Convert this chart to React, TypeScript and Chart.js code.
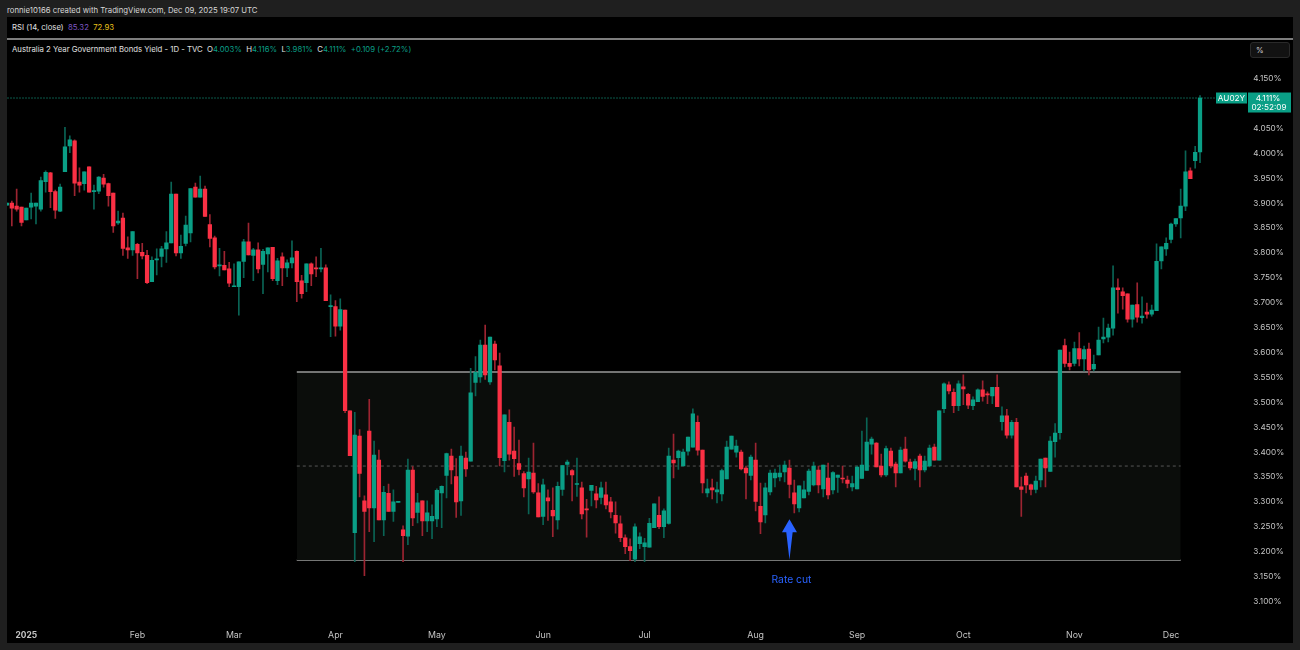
import React, { useEffect, useRef } from 'react';
import { Chart, registerables } from 'chart.js';

Chart.register(...registerables);

const opens = [
  3.896,3.900,3.894,3.892,3.866,3.892,3.894,3.888,3.943,3.961,
  3.923,3.884,3.963,4.015,4.025,3.942,3.939,3.973,3.923,3.924,
  3.950,3.939,3.920,3.860,3.870,3.810,3.806,3.817,3.801,3.795,
  3.742,3.786,3.793,3.808,3.820,3.918,3.800,3.819,3.840,3.932,
  3.912,3.928,3.857,3.830,3.774,3.775,3.768,3.732,3.732,3.783,
  3.822,3.795,3.806,3.777,3.798,3.811,3.744,3.792,3.770,3.780,
  3.803,3.744,3.740,3.778,3.770,3.768,3.770,3.692,3.692,3.653,
  3.685,3.483,3.238,3.432,3.302,3.442,3.288,3.384,3.264,3.317,
  3.281,3.299,3.244,3.231,3.364,3.279,3.302,3.262,3.262,3.266,
  3.318,3.353,3.392,3.351,3.302,3.388,3.382,3.540,3.551,3.615,
  3.541,3.617,3.573,3.383,3.460,3.402,3.377,3.357,3.346,3.358,
  3.318,3.271,3.308,3.283,3.264,3.325,3.375,3.363,3.335,3.328,
  3.286,3.323,3.316,3.309,3.314,3.300,3.273,3.256,3.228,3.210,
  3.185,3.216,3.210,3.209,3.248,3.273,3.250,3.257,3.384,3.389,
  3.372,3.402,3.410,3.460,3.404,3.318,3.328,3.320,3.316,3.346,
  3.406,3.400,3.400,3.368,3.353,3.384,3.291,3.274,3.320,3.348,
  3.350,3.360,3.368,3.318,3.288,3.308,3.321,3.334,3.364,3.326,
  3.348,3.324,3.349,3.348,3.344,3.330,3.326,3.347,3.363,3.416,
  3.418,3.372,3.354,3.402,3.376,3.358,3.406,3.380,3.367,3.392,
  3.364,3.372,3.410,3.384,3.487,3.535,3.520,3.493,3.531,3.516,
  3.493,3.501,3.525,3.517,3.513,3.530,3.461,3.473,3.434,3.460,
  3.330,3.352,3.334,3.325,3.344,3.388,3.361,3.421,3.439,3.614,
  3.578,3.578,3.608,3.587,3.607,3.567,3.595,3.627,3.631,3.649,
  3.730,3.722,3.718,3.667,3.696,3.670,3.681,3.677,3.684,3.784,
  3.808,3.827,3.858,3.870,3.894,3.965,3.985,4.003,
];

const closes = [
  3.900,3.890,3.888,3.861,3.890,3.900,3.900,3.945,3.962,3.923,
  3.886,3.932,4.013,4.027,3.940,3.936,3.963,3.922,3.924,3.952,
  3.938,3.915,3.854,3.864,3.809,3.806,3.843,3.800,3.794,3.740,
  3.785,3.787,3.808,3.820,3.918,3.800,3.813,3.856,3.929,3.912,
  3.928,3.873,3.829,3.772,3.776,3.766,3.739,3.734,3.782,3.822,
  3.796,3.806,3.768,3.803,3.810,3.748,3.784,3.770,3.780,3.790,
  3.742,3.718,3.778,3.758,3.768,3.770,3.704,3.694,3.653,3.686,
  3.483,3.393,3.434,3.357,3.281,3.288,3.394,3.264,3.319,3.281,
  3.300,3.301,3.232,3.364,3.268,3.298,3.262,3.278,3.271,3.323,
  3.331,3.397,3.364,3.300,3.392,3.366,3.519,3.560,3.615,3.555,
  3.631,3.585,3.389,3.475,3.396,3.387,3.365,3.328,3.360,3.320,
  3.270,3.334,3.302,3.272,3.331,3.373,3.380,3.354,3.337,3.276,
  3.284,3.333,3.304,3.328,3.294,3.280,3.258,3.228,3.210,3.202,
  3.250,3.230,3.218,3.257,3.296,3.250,3.282,3.392,3.378,3.402,
  3.400,3.430,3.477,3.404,3.338,3.326,3.324,3.324,3.363,3.410,
  3.432,3.412,3.366,3.358,3.390,3.301,3.260,3.328,3.358,3.358,
  3.358,3.374,3.335,3.296,3.332,3.324,3.362,3.372,3.334,3.374,
  3.314,3.359,3.354,3.346,3.337,3.337,3.370,3.374,3.420,3.426,
  3.370,3.354,3.407,3.372,3.358,3.404,3.382,3.368,3.381,3.364,
  3.382,3.408,3.384,3.483,3.537,3.523,3.493,3.537,3.527,3.494,
  3.505,3.525,3.512,3.515,3.530,3.491,3.473,3.434,3.460,3.330,
  3.325,3.334,3.325,3.342,3.386,3.368,3.422,3.438,3.605,3.578,
  3.572,3.608,3.587,3.606,3.565,3.576,3.625,3.631,3.649,3.730,
  3.726,3.714,3.667,3.695,3.671,3.673,3.677,3.685,3.783,3.812,
  3.819,3.858,3.869,3.894,3.963,3.949,4.002,4.111,
];

const highs = [
  3.900,3.904,3.928,3.892,3.890,3.920,3.900,3.952,3.965,3.962,
  3.926,3.938,4.052,4.035,4.027,3.971,3.963,3.973,3.936,3.953,
  3.958,3.940,3.920,3.884,3.880,3.832,3.843,3.819,3.819,3.805,
  3.792,3.808,3.813,3.843,3.942,3.918,3.836,3.874,3.929,3.940,
  3.954,3.934,3.877,3.834,3.809,3.803,3.781,3.778,3.782,3.827,
  3.860,3.809,3.820,3.807,3.810,3.811,3.789,3.800,3.786,3.824,
  3.804,3.755,3.778,3.780,3.792,3.809,3.776,3.716,3.704,3.708,
  3.685,3.483,3.480,3.445,3.312,3.506,3.422,3.404,3.331,3.336,
  3.324,3.301,3.252,3.386,3.371,3.317,3.302,3.302,3.294,3.326,
  3.332,3.398,3.406,3.387,3.412,3.400,3.568,3.592,3.625,3.655,
  3.631,3.623,3.599,3.475,3.485,3.450,3.424,3.361,3.388,3.418,
  3.337,3.346,3.324,3.328,3.340,3.373,3.384,3.365,3.388,3.340,
  3.305,3.333,3.331,3.340,3.340,3.309,3.300,3.272,3.234,3.226,
  3.256,3.238,3.227,3.267,3.296,3.310,3.286,3.408,3.436,3.404,
  3.406,3.430,3.487,3.473,3.404,3.346,3.346,3.340,3.366,3.422,
  3.432,3.424,3.404,3.372,3.394,3.418,3.338,3.338,3.364,3.366,
  3.374,3.382,3.384,3.344,3.332,3.342,3.366,3.380,3.372,3.374,
  3.378,3.361,3.354,3.372,3.352,3.352,3.372,3.442,3.469,3.430,
  3.419,3.396,3.412,3.408,3.380,3.410,3.430,3.386,3.386,3.396,
  3.392,3.414,3.416,3.483,3.539,3.541,3.527,3.543,3.555,3.518,
  3.511,3.527,3.543,3.521,3.530,3.555,3.491,3.486,3.464,3.468,
  3.350,3.358,3.336,3.352,3.386,3.388,3.431,3.457,3.605,3.627,
  3.601,3.621,3.640,3.613,3.619,3.595,3.651,3.669,3.657,3.774,
  3.748,3.730,3.718,3.695,3.740,3.712,3.699,3.695,3.818,3.812,
  3.830,3.860,3.869,3.928,4.005,3.971,4.014,4.116,
];

const lows = [
  3.896,3.854,3.884,3.854,3.866,3.868,3.858,3.884,3.922,3.891,
  3.869,3.883,3.963,4.001,3.915,3.922,3.926,3.922,3.888,3.919,
  3.932,3.894,3.841,3.857,3.795,3.789,3.795,3.748,3.788,3.738,
  3.742,3.756,3.772,3.781,3.820,3.794,3.789,3.814,3.822,3.912,
  3.912,3.873,3.812,3.768,3.754,3.766,3.732,3.732,3.675,3.750,
  3.796,3.744,3.760,3.718,3.762,3.744,3.736,3.734,3.752,3.770,
  3.702,3.709,3.722,3.734,3.752,3.762,3.704,3.632,3.633,3.645,
  3.479,3.393,3.180,3.310,3.152,3.240,3.220,3.264,3.232,3.281,
  3.261,3.299,3.180,3.214,3.252,3.258,3.232,3.240,3.226,3.250,
  3.248,3.308,3.336,3.269,3.273,3.351,3.382,3.513,3.540,3.546,
  3.536,3.565,3.372,3.360,3.384,3.351,3.354,3.310,3.276,3.317,
  3.270,3.254,3.263,3.230,3.245,3.313,3.354,3.302,3.311,3.266,
  3.229,3.292,3.288,3.296,3.286,3.268,3.237,3.220,3.196,3.182,
  3.180,3.206,3.180,3.209,3.248,3.246,3.228,3.255,3.348,3.365,
  3.372,3.394,3.410,3.394,3.318,3.310,3.306,3.298,3.302,3.346,
  3.406,3.390,3.364,3.306,3.344,3.282,3.236,3.258,3.314,3.330,
  3.342,3.340,3.308,3.278,3.280,3.308,3.314,3.332,3.318,3.310,
  3.306,3.316,3.319,3.338,3.328,3.322,3.326,3.347,3.363,3.396,
  3.370,3.350,3.351,3.368,3.330,3.358,3.380,3.364,3.344,3.330,
  3.360,3.370,3.384,3.384,3.479,3.517,3.479,3.483,3.495,3.487,
  3.485,3.501,3.502,3.497,3.497,3.491,3.444,3.428,3.428,3.330,
  3.271,3.318,3.314,3.318,3.330,3.330,3.361,3.390,3.426,3.571,
  3.565,3.573,3.573,3.563,3.555,3.563,3.595,3.619,3.621,3.635,
  3.679,3.687,3.661,3.651,3.661,3.659,3.669,3.673,3.684,3.768,
  3.795,3.820,3.853,3.830,3.885,3.949,3.970,3.981,
];

// month ticks sit on trading-day positions
const monthTicks = [4, 27, 47, 68, 89, 111, 132, 155, 176, 198, 221, 241];
const monthNames = ['2025', 'Feb', 'Mar', 'Apr', 'May', 'Jun', 'Jul', 'Aug', 'Sep', 'Oct', 'Nov', 'Dec'];
const priceTicks = [
  3.1, 3.15, 3.2, 3.25, 3.3, 3.35, 3.4, 3.45, 3.5, 3.55, 3.6,
  3.65, 3.7, 3.75, 3.8, 3.85, 3.9, 3.95, 4.0, 4.05, 4.1, 4.15,
];

const rangeTop = 3.561;
const rangeMid = 3.372;
const rangeBottom = 3.183;
const rangeStart = 60;
const rangeEnd = 243;
const lastPrice = 4.111;
const rateCutIndex = 162;
const rateCutTip = 3.265;
const rateCutBase = 3.184;
const rateCutLabel = 3.143;

const UP = '#0a9f86';
const DOWN = '#fa3044';
const UP_WICK = '#0a6455';
const DOWN_WICK = '#9c2431';
const FONT = 'Inter, "Liberation Sans", sans-serif';

const labels = Array.from({ length: 258 }, (_, i) => i);
const barColors = closes.map((c, i) => (c >= opens[i] ? UP : DOWN));
const wickColors = closes.map((c, i) => (c >= opens[i] ? UP_WICK : DOWN_WICK));

const overlayPlugin = {
  id: 'overlay',
  afterDraw(chart: any) {
    const { ctx, scales } = chart;
    const xs = scales.x;
    const ys = scales.y;

    // rate cut arrow + label
    const ax = xs.getPixelForValue(rateCutIndex);
    const tip = ys.getPixelForValue(rateCutTip);
    const base = ys.getPixelForValue(rateCutBase);
    ctx.save();
    ctx.fillStyle = '#2962ff';
    ctx.beginPath();
    ctx.moveTo(ax, tip);
    ctx.lineTo(ax + 7.5, tip + 13);
    ctx.lineTo(ax + 3.2, tip + 13);
    ctx.lineTo(ax, base);
    ctx.lineTo(ax - 3.2, tip + 13);
    ctx.lineTo(ax - 7.5, tip + 13);
    ctx.closePath();
    ctx.fill();
    ctx.font = `10.3px ${FONT}`;
    ctx.textAlign = 'center';
    ctx.textBaseline = 'middle';
    ctx.fillText('Rate cut', ax + 2, ys.getPixelForValue(rateCutLabel));

    // last price tags
    const py = ys.getPixelForValue(lastPrice);
    ctx.fillStyle = UP;
    ctx.fillRect(1216, py - 5.5, 31, 11);
    ctx.fillRect(1248, py - 5.5, 43, 20);
    ctx.fillStyle = '#ffffff';
    ctx.textAlign = 'center';
    ctx.font = `8.2px ${FONT}`;
    ctx.fillText('AU02Y', 1231.5, py + 0.5);
    ctx.fillText(lastPrice.toFixed(3) + '%', 1268, py + 0.5);
    ctx.fillText('02:52:09', 1269, py + 9.5);
    ctx.restore();
  },
};

const App: React.FC = () => {
  const canvasRef = useRef<HTMLCanvasElement | null>(null);

  useEffect(() => {
    if (!canvasRef.current) return;
    const ctx = canvasRef.current.getContext('2d');
    if (!ctx) return;

    const chart = new Chart(ctx, {
      type: 'bar',
      data: {
        labels,
        datasets: [
          {
            type: 'line',
            label: 'Range top',
            data: [{ x: rangeStart, y: rangeTop }, { x: rangeEnd, y: rangeTop }],
            borderColor: '#9a9a9a',
            borderWidth: 1.5,
            pointRadius: 0,
            fill: '+1',
            backgroundColor: '#0b0d0b',
            order: 5,
          },
          {
            type: 'line',
            label: 'Range bottom',
            data: [{ x: rangeStart, y: rangeBottom }, { x: rangeEnd, y: rangeBottom }],
            borderColor: '#9a9a9a',
            borderWidth: 1.5,
            pointRadius: 0,
            order: 5,
          },
          {
            type: 'line',
            label: 'Range mid',
            data: [{ x: rangeStart, y: rangeMid }, { x: rangeEnd, y: rangeMid }],
            borderColor: '#565656',
            borderWidth: 1,
            borderDash: [3, 3],
            pointRadius: 0,
            order: 4,
          },
          {
            type: 'line',
            label: 'Last price',
            data: [{ x: 0, y: lastPrice }, { x: 251, y: lastPrice }],
            borderColor: '#0b5a4b',
            borderWidth: 1,
            borderDash: [2, 1],
            pointRadius: 0,
            order: 4,
          },
          {
            label: 'Wicks',
            data: lows.map((l, i) => [l, highs[i]]),
            backgroundColor: wickColors,
            barThickness: 1,
            grouped: false,
            order: 2,
          },
          {
            label: 'Bodies',
            data: opens.map((o, i) => [o, closes[i]]),
            backgroundColor: barColors,
            barThickness: 3.6,
            minBarLength: 1,
            grouped: false,
            order: 1,
          },
        ] as any,
      },
      options: {
        responsive: false,
        animation: false,
        layout: { padding: { left: 7, top: 40, right: 0, bottom: 7 } },
        plugins: { legend: { display: false }, tooltip: { enabled: false } },
        scales: {
          x: {
            offset: false,
            grid: { display: false, drawTicks: false },
            border: { display: false },
            afterBuildTicks: (scale: any) => {
              scale.ticks = monthTicks.map((value) => ({ value }));
            },
            afterFit: (scale: any) => {
              scale.height = 21;
            },
            ticks: {
              autoSkip: false,
              maxRotation: 0,
              padding: 8,
              color: '#c4c4c4',
              font: (c: any) => ({ family: FONT, size: c.index === 0 ? 8.4 : 8.8, weight: c.index === 0 ? 'bold' : 'normal' }),
              callback: (_v: any, i: number) => monthNames[i],
            },
          },
          y: {
            position: 'right',
            min: 3.0588,
            max: 4.2275,
            grid: { display: false, drawTicks: false },
            border: { display: false },
            afterBuildTicks: (scale: any) => {
              scale.ticks = priceTicks.map((value) => ({ value }));
            },
            afterFit: (scale: any) => {
              scale.width = 51.69;
            },
            ticks: {
              padding: 5,
              color: '#c4c4c4',
              font: { family: FONT, size: 8.2 },
              callback: (v: any) => Number(v).toFixed(3) + '%',
            },
          },
        },
      },
      plugins: [overlayPlugin],
    });

    return () => {
      chart.destroy();
    };
  }, []);

  const text: React.CSSProperties = { position: 'absolute', fontFamily: FONT, fontSize: 7.75, lineHeight: '12px', whiteSpace: 'pre' };
  const val = { color: UP };

  return (
    <div style={{ position: 'fixed', left: 0, top: 0, width: 1300, height: 650, background: '#1f1f1f', overflow: 'hidden' }}>
      <div style={{ ...text, left: 7, top: 4, color: '#d8d8d8' }}>ronnie10166 created with TradingView.com, Dec 09, 2025 19:07 UTC</div>
      <div style={{ position: 'absolute', left: 7, top: 17, width: 1286, height: 626, background: '#000' }} />
      <div style={{ position: 'absolute', left: 7, top: 38, width: 1286, height: 1.5, background: '#7d7d7d' }} />
      <div style={{ ...text, left: 12, top: 21, color: '#e0e0e0' }}>
        RSI (14, close)  <span style={{ color: '#7e57c2' }}>85.32</span>  <span style={{ color: '#e8c21c' }}>72.93</span>
      </div>
      <div style={{ ...text, left: 12, top: 43, color: '#e0e0e0' }}>
        Australia 2 Year Government Bonds Yield - 1D - TVC  O<span style={val}>4.003%</span>  H<span style={val}>4.116%</span>  L<span style={val}>3.981%</span>  C<span style={val}>4.111%</span>  <span style={val}>+0.109 (+2.72%)</span>
      </div>
      <div style={{ position: 'absolute', left: 1250, top: 42, width: 40, height: 16, boxSizing: 'border-box', background: '#121212', border: '1px solid #2a2a2a', borderRadius: 3 }} />
      <div style={{ ...text, left: 1256, top: 44, color: '#d0d0d0' }}>%</div>
      <canvas ref={canvasRef} width={1300} height={650} style={{ position: 'absolute', left: 0, top: 0 }} />
    </div>
  );
};

export default App;
